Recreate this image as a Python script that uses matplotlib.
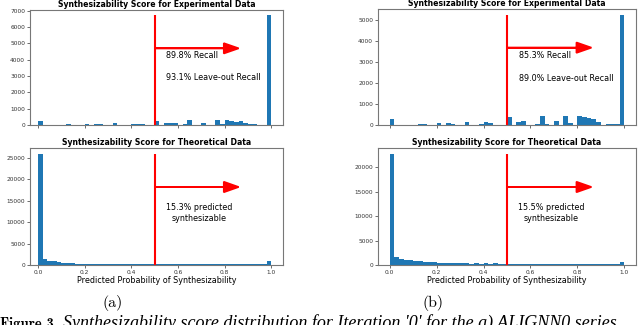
import numpy as np
import matplotlib.pyplot as plt

# 50 bins of width 0.02 on [0, 1]
bin_edges = np.linspace(0, 1, 51)

# counts per bin
exp_a = [220, 0, 0, 0, 0, 0, 40, 30, 0, 0,
         40, 0, 80, 60, 0, 0, 100, 20, 0, 0,
         60, 60, 60, 0, 0, 240, 0, 100, 120, 120,
         0, 60, 280, 0, 0, 140, 0, 0, 300, 60,
         300, 250, 200, 240, 130, 50, 50, 30, 30, 6700]
exp_b = [280, 0, 0, 0, 0, 0, 40, 60, 0, 0,
         80, 0, 100, 70, 0, 0, 130, 0, 0, 40,
         130, 100, 0, 0, 0, 380, 0, 150, 190, 0,
         0, 50, 430, 40, 0, 190, 0, 430, 100, 0,
         430, 400, 340, 300, 120, 0, 60, 40, 40, 5250]
theo_a = [26000, 1300, 1000, 850, 650, 550, 450, 400, 300, 250,
          250, 200, 300, 200, 200, 200, 150, 250, 150, 150,
          250, 150, 150, 150, 120, 300, 120, 120, 150, 120,
          120, 120, 150, 120, 120, 120, 150, 120, 120, 150,
          250, 150, 150, 250, 250, 150, 250, 300, 350, 900]
theo_b = [22800, 1600, 1200, 1100, 950, 900, 800, 700, 650, 550,
          500, 450, 450, 400, 350, 400, 350, 300, 350, 300,
          400, 300, 350, 300, 250, 300, 250, 250, 300, 250,
          250, 250, 300, 250, 250, 250, 300, 250, 200, 200,
          250, 200, 200, 250, 200, 200, 200, 250, 250, 600]

exp_yticks_a = [0, 1000, 2000, 3000, 4000, 5000, 6000, 7000]
exp_yticks_b = [0, 1000, 2000, 3000, 4000, 5000]
theo_yticks_a = [0, 5000, 10000, 15000, 20000, 25000]
theo_yticks_b = [0, 5000, 10000, 15000, 20000]
xticks = [0.0, 0.2, 0.4, 0.6, 0.8, 1.0]

exp_text_a = "89.8% Recall"
exp_text2_a = "93.1% Leave-out Recall"
exp_text_b = "85.3% Recall"
exp_text2_b = "89.0% Leave-out Recall"
theo_text_a = "15.3% predicted\nsynthesizable"
theo_text_b = "15.5% predicted\nsynthesizable"

fig = plt.figure(figsize=(6.4, 3.25), dpi=100)
W, H = 640, 325


def axes_px(l, t, r, b):
    return fig.add_axes([l / W, 1 - b / H, (r - l) / W, (b - t) / H])


def draw_hist(ax, counts, yticks, title, xlim, top):
    counts = np.array(counts)
    centers = (bin_edges[:-1] + bin_edges[1:]) / 2
    ax.hist(centers, bins=bin_edges, weights=counts, color='#1f77b4')
    ax.set_xlim(*xlim)
    ax.set_xticks(xticks)
    ax.set_yticks(yticks)
    ax.tick_params(labelsize=4.2, length=2, width=0.5, pad=1.5, colors='#333333')
    for s in ax.spines.values():
        s.set_linewidth(0.8)
        s.set_color('#777777')
    ax.set_title(title, fontsize=5.6, fontweight='bold', pad=2)
    m = counts.max()
    ax.vlines(0.5, 0, m, color='red', lw=1.5)
    ax.arrow(0.5, 0.7 * m, 0.296, 0, color='red', lw=1.2, width=0,
             head_width=0.09 * m * 1.05, head_length=0.064,
             length_includes_head=False)
    if top:
        ax.tick_params(labelbottom=False)
    else:
        ax.set_xlabel("Predicted Probability of Synthesizability",
                      fontsize=5.8, labelpad=1)
    return m


ax1 = axes_px(30, 10, 283, 125)
m = draw_hist(ax1, exp_a, exp_yticks_a, "Synthesizability Score for Experimental Data",
              (-0.035, 1.05), True)
ax1.text(0.55, 0.63 * m, exp_text_a, fontsize=5.8, va='center')
ax1.text(0.55, 0.43 * m, exp_text2_a, fontsize=5.8, va='center')

ax2 = axes_px(30, 148, 283, 265)
m = draw_hist(ax2, theo_a, theo_yticks_a, "Synthesizability Score for Theoretical Data",
              (-0.035, 1.05), False)
ax2.text(0.69, 0.465 * m, theo_text_a, fontsize=5.8, va='center', ha='center',
         multialignment='center')

ax3 = axes_px(378, 9, 636, 125)
m = draw_hist(ax3, exp_b, exp_yticks_b, "Synthesizability Score for Experimental Data",
              (-0.05, 1.05), True)
ax3.text(0.55, 0.63 * m, exp_text_b, fontsize=5.8, va='center')
ax3.text(0.55, 0.42 * m, exp_text2_b, fontsize=5.8, va='center')

ax4 = axes_px(378, 148, 636, 265)
m = draw_hist(ax4, theo_b, theo_yticks_b, "Synthesizability Score for Theoretical Data",
              (-0.05, 1.05), False)
ax4.text(0.69, 0.465 * m, theo_text_b, fontsize=5.8, va='center', ha='center',
         multialignment='center')

# sub-figure labels and caption (cut at the bottom edge, as in the source page)
fig.text(113 / W, 1 - 303 / H, "(a)", fontsize=11.5, family='cmr10', ha='center', va='center')
fig.text(433 / W, 1 - 303 / H, "(b)", fontsize=11.5, family='cmr10', ha='center', va='center')
fig.text(0, 1 - 328 / H, "Figure 3.", fontsize=10.5, family='cmb10', va='baseline')
fig.text(63 / W, 1 - 328 / H,
         "Synthesizability score distribution for Iteration '0' for the a) ALIGNN0 series",
         fontsize=13, family='Liberation Serif', style='italic', va='baseline')

fig.savefig('out.png', dpi=100)
